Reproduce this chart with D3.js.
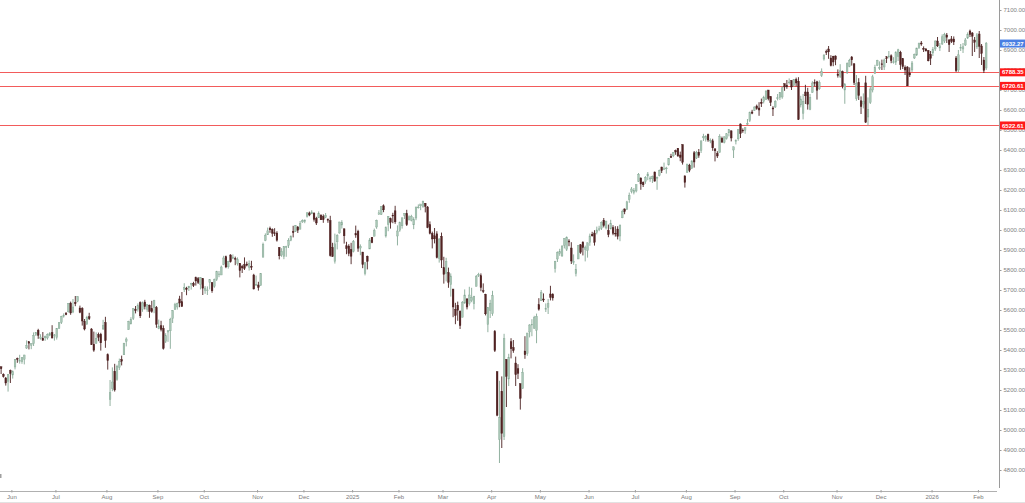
<!DOCTYPE html>
<html><head><meta charset="utf-8">
<script src="https://cdn.jsdelivr.net/npm/d3@7"></script>
<style>html,body{margin:0;padding:0;background:#fff;overflow:hidden}svg{display:block}</style>
</head><body><svg id="c" width="1025" height="503"></svg>
<script>
// OHLC rows per month: [open, high, low, close]
const may2024 = [[5281,5311,5279,5305],[5316,5316,5280,5306],[5278,5283,5262,5267],[5260,5265,5222,5235],[5244,5280,5192,5278]];
const jun2024 = [[5297,5302,5235,5283],[5275,5298,5257,5291],[5315,5355,5303,5354],[5357,5362,5336,5353],[5344,5376,5332,5347],
[5341,5365,5331,5361],[5354,5376,5328,5375],[5410,5448,5405,5421],[5441,5442,5403,5434],[5424,5433,5404,5432],
[5431,5488,5420,5473],[5477,5490,5470,5487],[5499,5506,5456,5473],[5459,5479,5452,5465],
[5459,5490,5447,5448],[5461,5472,5446,5469],[5460,5483,5452,5478],[5474,5490,5469,5483],[5488,5524,5458,5460]];
const jul2024 = [[5471,5480,5447,5475],[5462,5510,5452,5509],[5507,5539,5507,5537],[5537,5571,5530,5567],
[5572,5583,5562,5573],[5584,5590,5574,5577],[5591,5635,5587,5634],[5635,5642,5576,5585],[5590,5655,5584,5615],
[5638,5670,5619,5631],[5644,5669,5639,5667],[5610,5622,5584,5588],[5608,5614,5522,5545],[5544,5555,5498,5505],
[5528,5571,5528,5564],[5566,5586,5550,5556],[5505,5509,5425,5427],[5429,5492,5391,5399],[5433,5488,5432,5459],
[5476,5487,5444,5464],[5479,5486,5397,5436],[5505,5551,5501,5522]];
const aug2024 = [[5537,5566,5411,5447],[5376,5383,5302,5347],
[5152,5250,5120,5186],[5206,5313,5194,5240],[5294,5331,5192,5200],[5254,5326,5246,5319],[5313,5357,5300,5344],
[5352,5372,5323,5344],[5376,5436,5376,5434],[5444,5463,5418,5455],[5501,5546,5501,5543],[5530,5564,5529,5554],
[5557,5608,5550,5608],[5602,5620,5583,5597],[5603,5633,5592,5621],[5637,5643,5560,5571],[5603,5642,5591,5635],
[5640,5651,5603,5617],[5603,5628,5591,5626],[5624,5627,5561,5592],[5607,5646,5586,5592],[5612,5651,5584,5648]];
const sep2024 = [[5612,5620,5511,5529],[5506,5552,5504,5520],[5521,5546,5493,5503],[5508,5523,5402,5408],
[5443,5484,5435,5471],[5490,5497,5441,5496],[5496,5561,5406,5554],[5557,5600,5535,5596],[5604,5636,5600,5626],
[5615,5637,5602,5633],[5655,5671,5614,5635],[5641,5690,5615,5618],[5702,5734,5690,5714],[5709,5716,5674,5703],
[5711,5721,5695,5719],[5732,5736,5702,5733],[5733,5741,5715,5722],[5762,5767,5722,5745],[5756,5765,5730,5738],
[5727,5765,5703,5762]];
const oct2024 = [[5758,5758,5675,5709],[5698,5720,5681,5710],[5698,5718,5675,5700],[5737,5753,5703,5751],
[5737,5739,5686,5696],[5719,5757,5711,5751],[5752,5796,5745,5792],[5778,5795,5764,5780],[5775,5822,5775,5815],
[5829,5871,5824,5860],[5866,5872,5809,5815],[5816,5846,5807,5842],[5875,5879,5837,5841],[5859,5878,5854,5865],
[5858,5867,5824,5854],[5833,5863,5822,5851],[5834,5835,5763,5797],[5818,5826,5785,5810],[5826,5863,5800,5808],
[5830,5842,5818,5824],[5814,5848,5797,5833],[5818,5846,5800,5814],[5775,5781,5703,5705]];
const nov2024 = [[5724,5772,5723,5729],
[5725,5741,5697,5713],[5722,5783,5722,5783],[5864,5937,5864,5929],[5947,5983,5944,5973],[5976,6012,5975,5996],
[6009,6017,5986,6001],[6003,6008,5966,5984],[5986,6009,5970,5985],[5985,5994,5942,5949],[5912,5915,5853,5871],
[5875,5909,5866,5894],[5867,5920,5854,5917],[5917,5921,5866,5917],[5923,5959,5910,5949],[5948,5973,5944,5969],
[5993,6021,5963,5987],[5992,6025,5990,6022],[6015,6020,5985,5999],[6004,6045,6004,6032]];
const dec2024 = [[6040,6053,6036,6047],[6042,6052,6034,6050],[6069,6089,6062,6086],[6085,6092,6069,6075],[6081,6099,6079,6090],
[6084,6089,6042,6053],[6058,6066,6025,6035],[6061,6093,6061,6084],[6074,6079,6051,6051],[6068,6078,6036,6051],
[6063,6085,6059,6074],[6053,6058,6036,6051],[6048,6071,5867,5872],[5913,5936,5866,5867],[5843,5982,5832,5931],
[5941,5979,5903,5974],[5985,6041,5982,6040],[6025,6049,6007,6038],[6006,6007,5932,5971],
[5921,5941,5879,5907],[5920,5929,5869,5882]];
const jan2025 = [[5903,5936,5829,5869],[5892,5950,5888,5942],
[5982,6022,5961,5975],[5994,6001,5891,5909],[5910,5928,5874,5918],[5890,5890,5809,5827],
[5782,5837,5773,5836],[5869,5872,5803,5843],[5905,5960,5905,5950],[5964,5965,5934,5937],[5969,6007,5969,5997],
[6015,6052,6006,6049],[6079,6100,6076,6086],[6077,6119,6075,6119],[6121,6128,6089,6101],
[5970,6018,5962,6012],[6027,6070,5994,6068],[6057,6062,6007,6039],[6074,6086,6034,6071],[6096,6121,6031,6041]];
const feb2025 = [[5970,6023,5923,5995],[5999,6042,5991,6038],[6021,6062,6007,6061],[6073,6085,6055,6084],[6083,6101,6020,6026],
[6050,6073,6049,6066],[6049,6076,6043,6069],[6026,6064,6004,6052],[6060,6116,6049,6115],[6115,6128,6107,6115],
[6121,6130,6099,6130],[6117,6147,6111,6144],[6134,6135,6088,6118],[6115,6120,6009,6013],
[6027,6043,5978,5983],[5983,5992,5908,5955],[5971,6010,5933,5956],[5981,5994,5858,5862],[5857,5959,5837,5955]];
const mar2025 = [[5969,5987,5810,5850],[5812,5866,5732,5778],[5782,5861,5743,5843],[5786,5812,5711,5739],[5726,5783,5667,5770],
[5705,5705,5564,5615],[5604,5636,5529,5572],[5624,5642,5546,5599],[5594,5598,5505,5522],[5564,5645,5563,5639],
[5635,5703,5631,5675],[5655,5660,5603,5615],[5632,5716,5622,5675],[5647,5711,5639,5663],[5631,5671,5603,5668],
[5718,5775,5718,5768],[5776,5786,5765,5777],[5771,5783,5694,5712],[5696,5733,5685,5693],[5679,5681,5573,5581],
[5527,5615,5489,5612]];
const apr2025 = [[5597,5651,5560,5633],[5581,5696,5571,5671],[5493,5500,5390,5397],[5292,5292,5069,5074],
[4953,5246,4835,5062],[5194,5268,4910,4983],[4966,5481,4950,5457],[5353,5353,5115,5268],[5255,5381,5220,5363],
[5441,5459,5358,5406],[5412,5450,5386,5397],[5335,5367,5220,5276],[5306,5329,5255,5283],
[5232,5232,5102,5158],[5207,5309,5207,5288],[5395,5469,5356,5376],[5381,5485,5371,5485],[5490,5529,5463,5525],
[5529,5554,5469,5529],[5509,5571,5506,5561],[5499,5582,5434,5569]];
const may2025 = [[5626,5659,5597,5604],[5646,5700,5646,5687],
[5655,5683,5640,5650],[5604,5633,5590,5607],[5613,5655,5580,5631],[5680,5721,5648,5664],[5679,5684,5647,5660],
[5807,5846,5787,5844],[5855,5893,5840,5887],[5882,5906,5871,5893],[5870,5925,5866,5917],[5923,5959,5908,5958],
[5903,5968,5895,5964],[5945,5954,5919,5940],[5910,5939,5830,5845],[5841,5878,5826,5842],[5781,5830,5768,5803],
[5855,5925,5855,5922],[5926,5930,5881,5889],[5939,5944,5873,5912],[5903,5922,5843,5912]];
const jun2025 = [[5897,5937,5862,5936],[5938,5982,5921,5970],[5979,5991,5967,5971],[5985,5999,5922,5939],[5987,6017,5978,6000],
[6005,6021,5994,6006],[6009,6043,6000,6039],[6049,6060,6013,6022],[6010,6045,6003,6045],[5997,6027,5964,5977],
[6005,6051,6004,6033],[6012,6024,5974,5983],[5984,6019,5967,5981],[6005,6019,5953,5968],
[5970,6026,5944,6025],[6061,6102,6059,6092],[6105,6108,6079,6092],[6102,6146,6101,6141],[6151,6187,6136,6173],
[6193,6215,6183,6205]];
const jul2025 = [[6187,6210,6178,6198],[6195,6227,6188,6227],[6244,6285,6240,6279],
[6260,6263,6201,6230],[6239,6243,6215,6226],[6242,6269,6231,6263],[6270,6290,6249,6280],[6255,6269,6241,6260],
[6256,6272,6235,6269],[6290,6292,6243,6244],[6259,6267,6201,6264],[6272,6302,6268,6297],[6315,6316,6285,6297],
[6304,6337,6303,6306],[6307,6316,6282,6310],[6326,6360,6322,6359],[6368,6381,6360,6363],[6371,6390,6364,6389],
[6397,6402,6376,6390],[6409,6409,6365,6371],[6375,6392,6344,6363],[6427,6428,6327,6339]];
const aug2025 = [[6271,6271,6212,6238],
[6287,6330,6287,6330],[6324,6331,6289,6299],[6309,6349,6305,6345],[6386,6395,6312,6340],[6360,6396,6355,6389],
[6389,6405,6361,6373],[6398,6446,6385,6446],[6461,6481,6445,6467],[6453,6474,6442,6469],[6478,6482,6441,6450],
[6445,6458,6434,6449],[6446,6456,6396,6411],[6406,6407,6343,6396],[6383,6394,6360,6370],[6387,6479,6387,6467],
[6458,6467,6438,6439],[6437,6468,6433,6466],[6457,6485,6452,6481],[6486,6503,6468,6502],[6496,6497,6443,6460]];
const sep2025 = [[6400,6417,6360,6416],[6443,6453,6428,6448],[6456,6503,6446,6502],[6530,6533,6460,6482],
[6499,6508,6486,6495],[6498,6513,6481,6513],[6532,6555,6523,6532],[6546,6592,6540,6587],[6590,6601,6579,6584],
[6597,6618,6596,6615],[6620,6627,6601,6607],[6610,6639,6571,6600],[6639,6657,6615,6632],[6643,6671,6633,6664],
[6652,6700,6651,6694],[6700,6700,6648,6657],[6667,6670,6620,6638],[6610,6619,6570,6605],[6615,6649,6610,6644],
[6661,6680,6648,6661],[6662,6690,6650,6688]];
const oct2025 = [[6665,6718,6656,6711],[6732,6732,6696,6715],[6723,6750,6706,6716],
[6740,6758,6728,6740],[6747,6749,6700,6715],[6723,6755,6716,6754],[6753,6762,6718,6735],[6744,6764,6550,6553],
[6625,6671,6613,6655],[6584,6680,6553,6644],[6690,6726,6630,6671],[6690,6711,6602,6629],[6603,6680,6599,6664],
[6688,6744,6686,6735],[6737,6753,6718,6735],[6741,6746,6652,6699],[6706,6748,6700,6738],[6772,6808,6765,6792],
[6855,6878,6847,6875],[6892,6902,6875,6891],[6905,6920,6856,6891],[6860,6874,6818,6822],[6869,6871,6819,6840]];
const nov2025 = [[6870,6873,6824,6852],[6780,6803,6762,6772],[6768,6829,6760,6796],[6792,6797,6708,6720],[6700,6735,6631,6729],
[6789,6838,6780,6832],[6818,6856,6814,6847],[6865,6870,6822,6851],[6831,6834,6725,6737],[6656,6775,6646,6734],
[6738,6759,6650,6672],[6646,6668,6580,6617],[6630,6683,6608,6642],[6736,6771,6535,6539],[6565,6663,6522,6603],
[6637,6716,6630,6705],[6700,6776,6688,6766],[6783,6826,6780,6813],[6822,6851,6822,6849]];
const dec2025 = [[6813,6843,6800,6813],[6831,6852,6800,6829],[6815,6857,6800,6850],[6866,6869,6835,6857],[6867,6895,6858,6870],
[6871,6878,6834,6847],[6840,6864,6832,6841],[6839,6894,6825,6887],[6867,6906,6845,6901],[6889,6896,6801,6827],
[6857,6860,6805,6817],[6813,6823,6775,6800],[6815,6819,6720,6721],[6785,6813,6765,6775],[6800,6845,6790,6835],
[6860,6882,6855,6878],[6875,6911,6870,6910],[6912,6937,6905,6932],[6935,6945,6921,6930],
[6908,6918,6890,6906],[6905,6910,6892,6896],[6897,6900,6843,6846]];
const jan2026 = [[6878,6895,6825,6858],
[6885,6915,6870,6902],[6905,6948,6895,6945],[6945,6965,6915,6921],[6910,6935,6895,6921],[6930,6978,6925,6966],
[6945,6986,6935,6977],[6975,6985,6935,6964],[6950,6955,6890,6927],[6955,6970,6935,6944],[6955,6968,6925,6940],
[6860,6870,6790,6797],[6800,6900,6790,6876],[6910,6930,6895,6913],[6905,6935,6885,6916],
[6925,6960,6920,6950],[6960,6988,6955,6979],[6995,7002,6965,6978],[6985,6990,6870,6969],[6950,6965,6890,6939]];
const feb2026 = [[6915,6985,6905,6976],[6980,6995,6860,6918],[6920,6930,6825,6883],[6850,6865,6785,6798],[6810,6940,6800,6932.27]];

// month blocks with their x-axis tick labels (null = partial month, no tick)
const monthLabels = [null,"Jun","Jul","Aug","Sep","Oct","Nov","Dec","2025","Feb","Mar","Apr","May","Jun","Jul","Aug","Sep","Oct","Nov","Dec","2026","Feb"];
const monthRows = [may2024,jun2024,jul2024,aug2024,sep2024,oct2024,nov2024,dec2024,jan2025,feb2025,mar2025,apr2025,may2025,jun2025,jul2025,aug2025,sep2025,oct2025,nov2025,dec2025,jan2026,feb2026];

const yTickValues = [4800,4900,5000,5100,5200,5300,5400,5500,5600,5700,5800,5900,6000,6100,6200,6300,6400,6500,6600,6700,6800,6900,7000,7100];
const levelLines = [6788.35, 6720.61, 6522.61];
const lastPrice = 6932.27;

// ---- build ----
const candles = [];
const monthTicks = [];
monthRows.forEach((rows, mi) => {
  if (monthLabels[mi]) monthTicks.push({i: candles.length, label: monthLabels[mi]});
  rows.forEach(r => candles.push({o:r[0], h:r[1], l:r[2], c:r[3]}));
});

const W = 1025, H = 503, plotR = 999, plotB = 491;
const svg = d3.select("#c");
const x = d3.scaleLinear().domain([0, candles.length - 1]).range([-1.2, 986.2]);
const y = d3.scaleLinear().domain([4695, 7150]).range([plotB, 0]);

svg.append("defs").append("clipPath").attr("id","clip")
  .append("rect").attr("x",0).attr("y",0).attr("width",plotR).attr("height",plotB);

const plot = svg.append("g").attr("clip-path","url(#clip)");

// level lines
plot.selectAll("line.lvl").data(levelLines).enter().append("line")
  .attr("class","lvl").attr("x1",0).attr("x2",plotR)
  .attr("y1",d=>Math.round(y(d))+0.5).attr("y2",d=>Math.round(y(d))+0.5)
  .attr("stroke","#f25b5b").attr("stroke-width",1);

const upFill = "#a9c6b6", upStroke = "#86a895", dnFill = "#532323", dnStroke = "#4a1f1f";
const g = plot.selectAll("g.cd").data(candles).enter().append("g").attr("class","cd");
g.append("line")
  .attr("x1",(d,i)=>x(i)).attr("x2",(d,i)=>x(i))
  .attr("y1",d=>y(Math.max(d.h,d.o,d.c))).attr("y2",d=>y(Math.min(d.l,d.o,d.c)))
  .attr("stroke",d=>d.c>=d.o?upStroke:dnStroke).attr("stroke-width",0.9);
g.append("rect")
  .attr("x",(d,i)=>x(i)-0.85).attr("width",1.7)
  .attr("y",d=>y(Math.max(d.o,d.c)))
  .attr("height",d=>Math.max(0.8, Math.abs(y(d.o)-y(d.c))))
  .attr("fill",d=>d.c>=d.o?upFill:dnFill)
  .attr("stroke",d=>d.c>=d.o?upStroke:dnStroke).attr("stroke-width",0.4);

// right axis
const font = "'Liberation Sans', Arial, sans-serif";
const yAxis = d3.axisRight(y).tickValues(yTickValues).tickFormat(d3.format(".2f")).tickSize(2).tickPadding(2);
const ya = svg.append("g").attr("transform",`translate(${plotR+0.5},0)`).call(yAxis);
ya.select(".domain").attr("stroke","#9a9a9a").attr("d",`M0,0V${plotB-3}`);
ya.selectAll(".tick line").attr("stroke","#9a9a9a");
ya.selectAll(".tick text").attr("fill","#808080").style("font-size","6px").style("font-family",font);

// bottom axis
svg.append("line").attr("x1",0).attr("x2",997).attr("y1",plotB+0.5).attr("y2",plotB+0.5).attr("stroke","#b0b0b0");
svg.append("line").attr("x1",0).attr("x2",W).attr("y1",H-0.5).attr("y2",H-0.5).attr("stroke","#e2e2e2");
const xt = svg.selectAll("g.xt").data(monthTicks).enter().append("g").attr("class","xt")
  .attr("transform",d=>`translate(${x(d.i)+1.5},0)`);
xt.append("line").attr("y1",plotB-1).attr("y2",plotB+1.5).attr("stroke","#a0a0a0");
xt.append("text").attr("y",plotB+7.5).attr("text-anchor","middle")
  .attr("fill","#7a7a7a").style("font-size","6px").style("font-family",font).text(d=>d.label);

// price tags
function tag(v, color) {
  const t = svg.append("g").attr("transform",`translate(${plotR+1},${y(v)})`);
  t.append("rect").attr("x",0).attr("y",-4).attr("width",W-plotR-1).attr("height",8).attr("fill",color);
  t.append("text").attr("x",2).attr("y",0).attr("dy","0.35em").attr("fill","#fff")
    .style("font-size","6px").style("font-weight","bold").style("font-family",font).text(d3.format(".2f")(v));
}
levelLines.forEach(v => tag(v, "#ff1a1a"));
tag(lastPrice, "#4a7fe3");

// small marker bottom-left
svg.append("rect").attr("x",0).attr("y",474).attr("width",1.5).attr("height",4).attr("fill","#a0a0a0");
</script></body></html>
